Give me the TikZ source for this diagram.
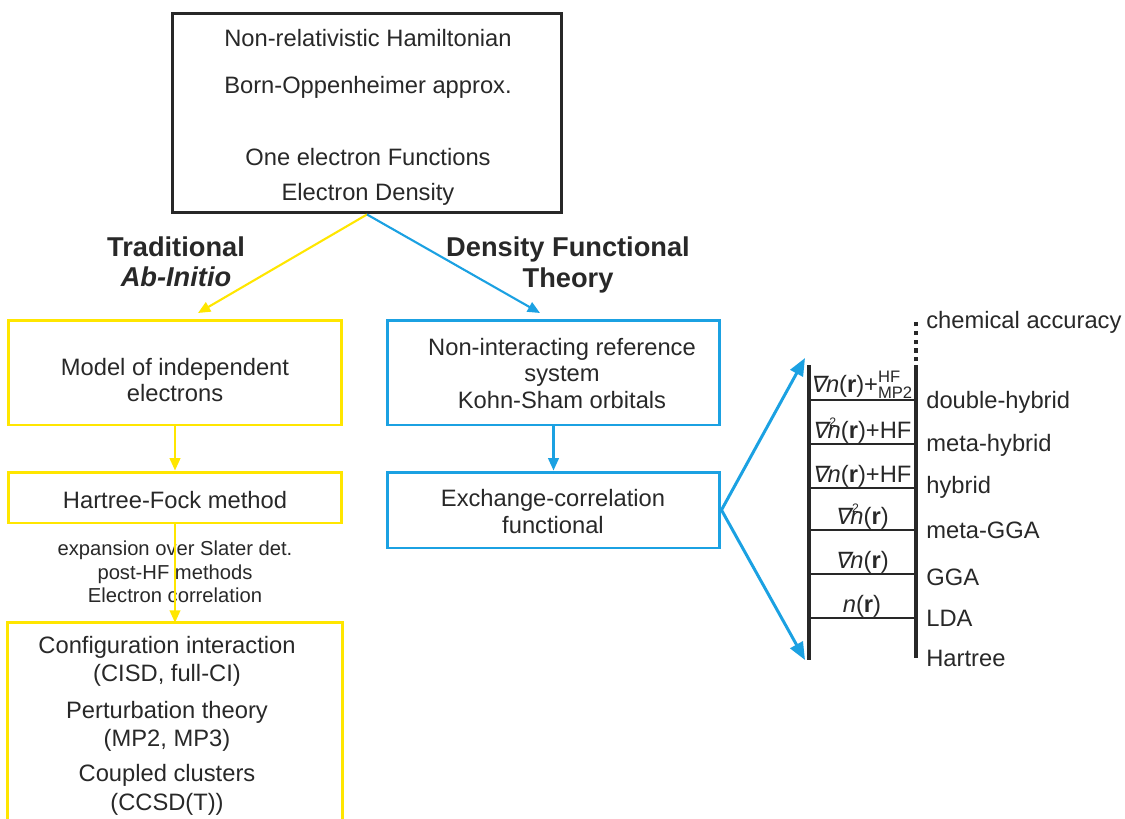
\documentclass[tikz,border=0pt]{standalone}
\usepackage{amsmath}
\usepackage{fontspec}
\setmainfont{Liberation Sans}
\newfontfamily\nabfont[Scale=0.95,FakeSlant=0.2]{DejaVu Sans}
\usepackage{xcolor}
\usepackage{tikz}
\usetikzlibrary{arrows.meta,positioning}

\definecolor{ayellow}{RGB}{255,230,0}
\definecolor{ablue}{RGB}{27,161,226}
\definecolor{ink}{RGB}{40,40,40}
\newcommand{\nab}{{\nabfont ∇}}
\newcommand{\nabsq}{\nab\rlap{\kern1pt\raisebox{6.5pt}{\fontsize{7}{7}\selectfont 2}}}

\begin{document}
\begin{tikzpicture}[x=0.02cm,y=-0.02cm,
  lbl/.style={font=\fontsize{13.5}{16}\selectfont,text=ink,inner sep=0pt,text height=9.7pt,text depth=0pt},
  note/.style={lbl,font=\fontsize{11.5}{13}\selectfont,text height=8.3pt},
  head/.style={lbl,font=\fontsize{15.5}{18}\selectfont\bfseries,text height=11.2pt},
  frame/.style={draw,line width=1.7pt,inner sep=0pt},
  ybox/.style={frame,draw=ayellow},
  bbox/.style={frame,draw=ablue},
  yarr/.style={ayellow,line width=1.2pt,-{Triangle[length=7pt,width=6pt]}},
  barr/.style={ablue,line width=1.2pt,-{Triangle[length=7pt,width=6pt]}},
  bigarr/.style={ablue,line width=1.7pt,-{Triangle[length=10pt,width=8pt]}},
  rail/.style={ink,line width=2.3pt},
  rung/.style={ink,line width=1.1pt}]

\useasboundingbox (0,0) rectangle (1125,818);

% common start
\node[frame,draw=ink,minimum width=7.8cm,minimum height=4cm] (start) at (367,113) {};
\node[lbl] (hamil) at (368,38) {Non-relativistic Hamiltonian};
\node[lbl] (bo) at (368,85) {Born-Oppenheimer approx.};
\node[lbl] (onee) at (368,157) {One electron Functions};
\node[lbl] (dens) at (368,192) {Electron Density};

\coordinate (ytip) at (198,313);
\coordinate (btip) at (540,313);
\draw[yarr] (start.south) -- (ytip);
\draw[barr] (start.south) -- (btip);

\node[head] (trad) at (176,247) {Traditional};
\node[head] (abin) at (176,277) {\itshape Ab-Initio};
\node[head] (dft) at (568,247) {Density Functional};
\node[head] (theo) at (568,278) {Theory};

% ab initio branch
\node[ybox,minimum width=6.68cm,minimum height=2.1cm] (indep) at (175,372.5) {};
\node[lbl] (indep1) at (175,367) {Model of independent};
\node[lbl] (indep2) at (175,393) {electrons};

\node[ybox,minimum width=6.68cm,minimum height=1.02cm] (hf) at (175,497.5) {};
\node[lbl] (hftxt) at (175,500) {Hartree-Fock method};

\node[note] (post1) at (175,548) {expansion over Slater det.};
\node[note] (post2) at (175,572) {post-HF methods};
\node[note] (post3) at (175,595) {Electron correlation};

\node[minimum width=6.68cm,minimum height=4.24cm,inner sep=0pt] (ci) at (175,729) {};
\draw[ayellow,line width=1.7pt] (ci.south west) -- (ci.north west) -- (ci.north east) -- (ci.south east);
\node[lbl] (ci1) at (167,645) {Configuration interaction};
\node[lbl] (ci2) at (167,673) {(CISD, full-CI)};
\node[lbl] (ci3) at (167,710) {Perturbation theory};
\node[lbl] (ci4) at (167,738) {(MP2, MP3)};
\node[lbl] (ci5) at (167,773) {Coupled clusters};
\node[lbl] (ci6) at (167,802) {(CCSD(T))};

\draw[yarr] (indep.south) -- (hf.north);
\draw[yarr] (hf.south) -- (ci.north);

% dft branch
\node[bbox,minimum width=6.66cm,minimum height=2.1cm] (ks) at (553.5,372.5) {};
\node[lbl] (ks1) at (562,347) {Non-interacting reference};
\node[lbl] (ks2) at (562,373) {system};
\node[lbl] (ks3) at (562,400) {Kohn-Sham orbitals};

\node[bbox,minimum width=6.66cm,minimum height=1.52cm] (xc) at (553.5,510) {};
\node[lbl] (xc1) at (553,498) {Exchange-correlation};
\node[lbl] (xc2) at (553,525) {functional};

\draw[barr] (ks.south) -- (xc.north);

% ladder
\coordinate (lt) at (809,365);
\coordinate (lb) at (809,660);
\coordinate (rt) at (916,365);
\coordinate (rb) at (916,658);
\coordinate (dots) at (916,318);
\draw[rail] (lt) -- (lb);
\draw[rail] (rt) -- (rb);
\draw[ink,line width=2.3pt,dash pattern=on 2.5pt off 2.5pt] ([yshift=2pt]rt) -- (dots);
\foreach \y in {400,444,488,530,574,618}
  \draw[rung] (809,\y) -- (916,\y);

\coordinate (up) at (805,358);
\coordinate (dn) at (805,660);
\draw[bigarr] (xc.east) -- (up);
\draw[bigarr] (xc.east) -- (dn);

\node[lbl,anchor=base] (r6) at (862,392) {\nab\textit{n}(\textbf{r})+$^{\text{HF}}_{\text{MP2}}$};
\node[lbl,anchor=base] (r5) at (862,438) {\nabsq\textit{n}(\textbf{r})+HF};
\node[lbl,anchor=base] (r4) at (862,482) {\nab\textit{n}(\textbf{r})+HF};
\node[lbl,anchor=base] (r3) at (862,524) {\nabsq\textit{n}(\textbf{r})};
\node[lbl,anchor=base] (r2) at (862,568) {\nab\textit{n}(\textbf{r})};
\node[lbl,anchor=base] (r1) at (862,612) {\textit{n}(\textbf{r})};

\foreach \y/\t [count=\i] in {320/chemical accuracy,400/double-hybrid,443/meta-hybrid,485/hybrid,530/meta-GGA,577/GGA,618/LDA,658/Hartree}
  \node[lbl,anchor=west] (lvl\i) at (926,\y) {\t};

\end{tikzpicture}
\end{document}
